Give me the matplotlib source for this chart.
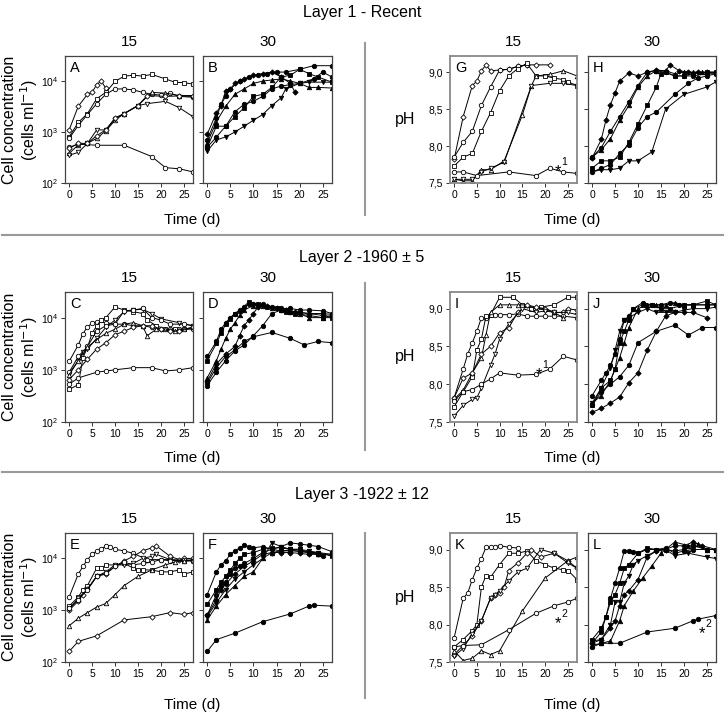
import matplotlib.pyplot as plt
from matplotlib.ticker import NullLocator

plt.rcParams.update({
    'font.family':['Liberation Sans','DejaVu Sans'],
    'font.size':8,
    'axes.linewidth':0.9,
    'xtick.major.size':3,'ytick.major.size':3,
    'xtick.major.width':0.7,'ytick.major.width':0.7,
    'xtick.labelsize':7.5,'ytick.labelsize':7.5,
})

# ---- cell concentration, 15 C (open symbols) ----
A_T=[[0,2,4,5,6,7,8],[0,2,4,6,8,10,12,14,16,18,21,23,25,27],[0,2,4,6,8,10,12,14,16,18,20,22,24,27],
     [0,2,4,6,8,10,12,15,18,21,24,27],[0,2,4,6,8,10,12,15,17,21,24,27],[0,2,6,12,18,21,24,27],
     [0,2,4,6,8,10,12,15,17,21,24,27]]
A_Y=[[1100,3200,5500,6000,8500,10000,7200],[800,1550,2300,4500,6000,9800,12500,13000,12500,13500,11000,9500,9300,8700],
     [750,1350,2200,3600,5500,7000,7000,6700,6000,5500,5300,5800,5000,4800],
     [380,560,600,750,1050,1700,2300,3300,6000,5800,5200,5200],[350,400,600,1100,1100,1800,2300,3300,3600,4000,3000,2000],
     [500,580,550,550,330,200,190,165],[480,600,600,850,1100,1900,2300,3300,5200,5000,5100,5000]]
A_MK=['D','s','o','^','v','o','D']

B_T=[[0,2,3,4,5,6,7,8,10,12,14,16,18,19],[0,2,3,4,5,7,9,11,13,15,17,20,23,27],[0,2,4,6,8,10,12,14,16,18,20,22,24,27],
     [0,2,4,6,8,10,12,14,16,18,20,22,24,27],[0,2,4,6,8,10,12,14,16,18,20,23,25,27],[0,2,4,6,8,10,12,14,16,17,20,22,25,27]]
B_Y=[[900,2400,3300,6500,7000,9000,10000,11000,13000,14000,15000,12000,9000,6000],
     [700,1900,3500,5000,7000,10000,12000,13000,14000,15000,15000,17000,20000,20000],
     [600,1600,3200,5500,7000,9000,10000,10500,11000,10000,9000,7500,7500,7300],
     [500,1300,1300,2000,3000,5000,5500,7500,12000,13000,17000,14000,12000,9500],
     [500,800,1300,2500,3500,4000,5000,7000,8000,8500,9000,11000,15000,12000],
     [420,700,800,1000,1300,1700,2200,3300,4700,7000,9000,9500,9500,9500]]
B_MK=['D','o','^','s','o','v']

C_T=[[0,2,3,4,5,6,8,10,12,14,16,18,20,22,24,27],[0,2,3,4,5,6,7,8,10,12,14,16,17,19,21,23,25,27],
     [0,2,3,4,6,8,10,12,14,16,18,20,24,27],[0,2,4,6,8,10,12,14,16,18,20,22,25,27],
     [0,2,4,6,8,10,12,14,16,17,19,21,23,25,27],[0,2,4,6,8,10,12,14,16,18,20,22,24,27],[0,2,6,8,10,14,18,21,24,27]]
C_Y=[[1450,3000,4900,6700,7800,8400,8000,7500,7500,7000,7000,6500,6000,6000,6000,6000],
     [420,520,1700,2700,5000,7000,9000,10000,16000,14000,13000,12000,9000,7000,6000,6000,6000,6500],
     [850,1500,2200,2500,4000,6500,9000,13000,14000,14500,12000,9500,8000,7000],
     [900,1800,2800,5500,7000,7500,13500,14000,15000,10000,9000,7500,7500,7000],
     [800,1500,2700,3800,5000,6000,7500,8000,7000,4500,6000,6000,5500,6000,6500],
     [650,1000,1600,2500,3300,4700,5500,6500,7000,7000,6000,5500,5500,6500],
     [530,700,900,950,1000,1100,1100,950,1000,1100]]
C_MK=['o','s','v','o','^','D','o']

D_T=[[0,2,3,4,5,6,7,8,9,10,12,14,16,18,20,22,25,27],[0,2,3,4,5,6,7,9,11,13,15,17,19,22,25,27],
     [0,2,3,4,5,6,7,8,10,12,14,16,18,20,22,25,27],[0,2,4,6,7,8,9,10,11,13,15,17,19,22,25,27],
     [0,2,4,6,8,10,12,14,16,18,20,22,25,27],[0,2,4,6,8,10,14,18,21,24,27]]
D_Y=[[1800,3500,6000,8000,10000,12000,14000,16000,18000,18000,18000,16000,15000,15000,14000,14000,13500,12000],
     [1500,3200,5000,7500,9500,12000,13500,20000,18000,16000,15000,13000,12000,11000,10000,10000],
     [700,1500,2500,4000,6000,8000,11000,14000,17000,17000,15000,14000,13000,12000,10000,10000,11000],
     [600,1300,2000,2800,4500,7000,9000,12000,16000,17000,15000,14000,13000,12000,11000,10500],
     [500,900,1500,2300,3000,4500,7000,12000,14000,13000,12500,12000,12000,11500],
     [550,1100,1800,2400,3500,4300,5200,4000,3000,3500,3300]]
D_MK=['o','s','^','D','o','o']

E_T=[[0,2,3,4,5,6,7,8,9,10,12,14,17,20,22,25,27],[0,2,3,4,6,7,8,10,12,14,15,16,18,20,22,24,25,27],
     [0,2,3,4,6,8,10,12,14,16,18,19,22,24,25,27],[0,2,4,6,8,10,12,14,16,18,19,22,25,27],
     [0,2,4,6,8,10,12,14,16,18,20,22,25,27],[0,2,4,6,8,10,12,15,18,21,23,25,27],[0,2,6,12,18,22,25,27]]
E_Y=[[1800,5000,7000,9500,12000,14000,15000,17500,16500,15000,14000,12500,9500,9500,9500,9000,9000],
     [1200,1800,2500,3000,6500,6500,7500,7500,8000,6500,6000,6000,6000,5500,5500,6000,5000,5500],
     [1000,1500,2000,2600,4500,5000,7000,9000,11000,14000,16000,17500,11000,9500,10000,10000],
     [1050,1700,2500,4500,5500,7500,7500,8000,10000,11000,12000,9500,9000,9000],
     [1100,1600,2500,4500,5200,7000,8500,7500,8000,8500,9500,9000,9500,9000],
     [500,700,900,1150,1350,2000,3000,4500,6000,7500,8500,9000,9500],
     [160,250,320,650,750,900,830,900]]
E_MK=['o','s','D','v','o','^','D']

F_T=[[0,2,3,4,5,6,7,8,9,10,12,14,16,18,20,22,24,27],[0,2,3,4,5,6,7,8,10,12,14,16,18,20,22,24,27],
     [0,2,3,4,5,6,7,8,10,12,14,16,18,20,22,24,25],[0,2,3,4,6,8,10,12,14,16,18,20,22,24],
     [0,2,4,6,8,10,12,14,16,18,20,22,24,27],[0,2,4,6,8,10,12,14,16,18,20,22,24,27],[0,2,6,12,18,22,23,27]]
F_Y=[[2000,5500,7500,9000,12000,14000,16000,18000,17000,16000,17000,15000,17000,20000,19000,18000,17000,13500],
     [1300,2500,3500,4500,6000,8000,10000,12000,13000,15000,16000,16000,15000,15000,13000,13000,11000],
     [800,2000,3000,3500,5000,6500,7000,8000,10000,13000,15000,14000,14500,13500,13000,12000,11000],
     [800,1600,2500,3200,5000,7000,9000,12000,13000,13000,13000,12500,12000,12000],
     [750,1400,2500,4000,5500,7500,10000,20000,17000,15000,15000,14000,13000,12000],
     [650,1200,2000,3000,4500,5500,10000,13000,14000,14000,14000,13000,12000,12000],
     [160,270,360,600,850,1200,1250,1200]]
F_MK=['o','s','o','D','v','^','o']

# ---- pH ----
G_T=[[0,2,4,5,6,7,8,10,12,14,16,18,21],[0,2,4,6,8,10,12,14,16],[0,2,4,6,8,10,12,14,16,18,20,22,24,25,27],
     [0,2,4,6,8,11,15,17,18,21,24,27],[0,2,4,6,8,11,17,21,24,27],[0,2,5,12,18,21,24,27]]
G_Y=[[7.82,8.4,8.82,8.88,9.02,9.1,9.02,9.03,9.04,9.08,9.1,9.1,9.1],[7.85,8.05,8.2,8.55,8.8,9.03,9.04,9.08,9.1],
     [7.73,7.85,7.9,8.2,8.45,8.75,8.95,9.05,9.12,8.95,8.95,8.92,8.9,8.87,8.82],
     [7.55,7.53,7.53,7.68,7.68,7.8,8.42,8.82,8.95,8.97,9.02,8.95],[7.55,7.55,7.55,7.65,7.7,7.78,8.82,8.85,8.85,8.82],
     [7.65,7.65,7.6,7.65,7.6,7.7,7.65,7.63]]
G_MK=['D','o','s','^','v','o']

H_T=[[0,2,3,4,5,6,8,10,12,14,16,17,19,21,23,25,27],[0,2,4,6,8,10,12,14,16,18,20,22,25,27],
     [0,2,4,6,8,10,12,14,16,18,20,22,24,27],[0,2,4,6,8,10,12,14,15,16,18,20,22,25,27],
     [0,2,4,6,8,10,12,14,18,21,23,25,27],[0,2,4,6,8,10,13,16,20,25,27]]
H_Y=[[7.84,8.09,8.35,8.56,8.72,8.88,8.99,8.95,9.0,9.03,9.02,9.1,9.02,9.0,9.0,9.0,9.0],
     [7.85,7.98,8.2,8.4,8.6,8.82,9.0,9.02,9.0,8.95,8.95,8.95,8.98,8.98],
     [7.85,7.95,8.1,8.35,8.55,8.8,8.95,9.02,9.02,8.98,9.0,9.0,9.0,9.0],
     [7.7,7.8,7.8,7.85,8.05,8.3,8.55,8.8,8.98,9.0,8.95,8.95,8.98,9.0,9.0],
     [7.65,7.7,7.75,7.9,8.02,8.25,8.4,8.46,8.7,8.85,8.92,8.95,8.98],
     [7.65,7.68,7.68,7.7,7.8,7.8,7.92,8.5,8.7,8.8,8.87]]
H_MK=['D','o','^','s','o','v']

I_T=[[0,2,3,4,5,6,7,8,9,10,12,14,16,18,20,22,24,27],[0,2,4,5,6,7,8,10,13,15,17,19,22,25,27],
     [0,2,4,6,7,8,10,12,14,16,18,20,22,24],[0,2,4,6,8,10,12,14,16,18,20,22,24,25,27],
     [0,2,4,5,6,8,9,10,12,15,18,20,22,25,27],[0,2,4,6,8,10,14,18,21,24,27]]
I_Y=[[7.82,8.2,8.4,8.55,8.7,8.88,8.88,8.92,8.92,8.92,8.92,8.93,8.9,8.9,8.9,8.9,8.9,8.88],
     [7.7,7.9,8.1,8.45,8.6,8.9,8.92,9.15,9.15,9.05,9.0,9.02,9.05,9.15,9.15],
     [7.8,7.92,8.15,8.35,8.65,8.95,9.05,9.05,9.05,9.05,9.0,9.0,8.95,8.88],
     [7.82,8.08,8.15,8.4,8.5,8.68,8.75,8.95,9.05,9.02,9.0,8.95,8.95,9.0,8.98],
     [7.58,7.72,7.8,7.82,7.95,8.25,8.4,8.6,8.8,9.0,8.95,8.97,8.95,8.95,8.92],
     [7.78,7.9,7.93,8.0,8.07,8.15,8.12,8.13,8.2,8.37,8.32]]
I_MK=['o','s','^','D','v','o']

J_T=[[0,2,3,4,5,6,7,8,9,11,13,15,17,19,22,25,27],[0,2,4,5,6,7,8,9,11,13,15,17,20,22,25,27],
     [0,2,4,5,6,7,8,10,12,14,16,18,20,22,25,27],[0,2,4,5,6,7,8,10,12,14,16,18,20,22,25,27],
     [0,2,4,6,8,10,14,18,21,24,27],[0,2,4,6,8,10,12,14,16,18,20,22,25]]
J_Y=[[7.85,8.05,8.15,8.25,8.4,8.6,8.85,8.9,9.0,9.08,9.05,9.05,9.08,9.05,9.05,9.05,9.05],
     [7.72,7.95,8.05,8.2,8.55,8.7,8.85,9.0,9.05,9.05,9.0,9.0,9.05,9.05,9.1,9.05],
     [7.75,7.85,8.05,8.2,8.35,8.55,8.75,9.0,9.05,9.05,9.05,9.08,9.05,9.05,9.05,9.05],
     [7.75,7.95,8.22,8.45,8.7,8.85,8.88,8.95,9.0,8.95,8.95,8.95,8.98,9.0,9.0,9.02],
     [7.72,7.9,8.0,8.1,8.25,8.55,8.7,8.78,8.65,8.75,8.75],
     [7.63,7.68,7.75,7.83,8.02,8.15,8.45,8.7,8.9,8.95,8.95,8.95,8.88]]
J_MK=['o','s','^','v','o','D']

K_T=[[0,2,3,4,5,6,7,8,9,10,12,14],[0,2,4,5,6,7,8,10,12,14,16,18,20,22,24,25,27],
     [0,2,4,6,8,9,10,11,12,14,16,17,19,22,25,27],[0,2,4,6,8,9,10,12,14,16,19,22,25,27],
     [0,2,4,6,8,10,15,20,25,27],[0,2,6,12,18,22,25,27]]
K_Y=[[7.82,8.35,8.42,8.6,8.75,8.88,9.03,9.03,9.04,9.05,9.03,9.02],
     [7.7,7.8,7.92,8.0,8.5,8.65,8.63,8.8,8.95,8.95,8.98,8.85,8.8,8.75,8.73,8.72,8.6],
     [7.6,7.72,7.85,8.05,8.35,8.4,8.42,8.5,8.72,8.82,8.95,9.0,8.9,8.95,8.85,8.75],
     [7.58,7.68,7.88,8.05,8.35,8.4,8.45,8.58,8.7,8.75,9.0,8.95,8.82,8.75],
     [7.65,7.52,7.55,7.65,7.6,7.65,8.18,8.62,8.85,8.9],[7.7,7.72,7.73,7.93,8.15,8.25,8.3,8.35]]
K_MK=['o','s','D','v','^','o']

L_T=[[0,2,3,4,5,6,7,8,9,10,12,14,16,18,20,22,25,27],[0,2,3,4,5,6,7,8,10,12,14,16,18,20,22,25,27],
     [0,2,4,5,6,7,8,9,10,12,14,16,18,21,25,27],[0,2,4,5,6,7,8,10,12,14,16,18,20,22,24,27],
     [0,2,4,6,7,9,11,13,15,18,21,23,25,27],[0,2,6,12,18,22,23,27]]
L_Y=[[7.75,7.9,8.1,8.35,8.55,8.75,8.98,8.98,8.97,8.95,9.0,9.0,9.02,8.95,8.98,9.0,9.0,9.0],
     [7.8,7.95,8.1,8.3,8.4,8.55,8.75,8.8,8.95,9.02,9.0,9.0,8.98,9.0,9.05,9.0,9.0],
     [7.78,7.8,8.0,8.3,8.3,8.55,8.65,8.8,8.85,8.92,8.98,9.0,8.92,8.95,8.9,8.88],
     [7.75,7.8,7.95,8.05,8.25,8.4,8.45,8.6,8.9,8.98,9.0,9.05,9.05,9.1,9.05,9.0],
     [7.72,7.75,7.78,8.05,8.25,8.45,8.62,8.78,8.95,9.1,9.05,9.08,9.0,9.0],[7.7,7.75,7.75,7.9,7.95,8.05,8.07,8.12]]
L_MK=['o','s','v','D','^','o']

LAYERS=['Layer 1 - Recent','Layer 2 -1960 \u00b1 5','Layer 3 -1922 \u00b1 12']
TEMPS=['15','30']
NOTES={'G':('1',22.8,7.72),'I':('1',18.6,8.2),'K':('2',22.8,8.08),'L':('2',23.9,7.95)}

W,H=725,717
ROWS=[(56,183),(292,422),(533,662)]
COLS=[(65,193),(203,332),(450,577),(588,716)]
fig=plt.figure(figsize=(W/100,H/100),dpi=100)

def box(c,r):
    (l,rt),(t,b)=COLS[c],ROWS[r]
    return [l/W,1-b/H,(rt-l)/W,(b-t)/H]

panels=[[('A',A_T,A_Y,A_MK),('B',B_T,B_Y,B_MK),('G',G_T,G_Y,G_MK),('H',H_T,H_Y,H_MK)],
        [('C',C_T,C_Y,C_MK),('D',D_T,D_Y,D_MK),('I',I_T,I_Y,I_MK),('J',J_T,J_Y,J_MK)],
        [('E',E_T,E_Y,E_MK),('F',F_T,F_Y,F_MK),('K',K_T,K_Y,K_MK),('L',L_T,L_Y,L_MK)]]

for r in range(3):
    for c in range(4):
        lab,T,Y,MK=panels[r][c]
        ax=fig.add_axes(box(c,r))
        filled=c in (1,3)
        for t,y,m in zip(T,Y,MK):
            ax.plot(t,y,color='k',lw=0.7,marker=m,ms=3.2 if m!='D' else 2.7,mew=0.6,mec='k',mfc='k' if filled else 'white')
        ax.set_xlim(-0.9,27)
        ax.set_xticks([0,5,10,15,20,25])
        if c<2:
            ax.set_yscale('log'); ax.set_ylim(100,31000); ax.set_yticks([100,1000,10000])
        else:
            ax.set_ylim(7.5,9.22); ax.set_yticks([7.5,8.0,8.5,9.0]); ax.set_yticklabels(['7,5','8,0','8,5','9,0'])
        ax.yaxis.set_minor_locator(NullLocator())
        if c in (1,3): ax.tick_params(axis='y',labelleft=False)
        ax.tick_params(axis='both',pad=2,colors='#333333',labelcolor='black')
        for s in ax.spines.values(): s.set_color('#444444' if c!=2 else '#888888'); s.set_linewidth(0.9 if c!=2 else 1.3)
        ax.text(0.04,0.96,lab,transform=ax.transAxes,ha='left',va='top',fontsize=10.5)
        if lab in NOTES:
            n,x,y=NOTES[lab]
            ax.text(x,y-0.13,'*',fontsize=12,ha='center',va='baseline')
            ax.text(x+0.8,y-0.01,n,fontsize=7.5,ha='left',va='bottom')
        l,rt=COLS[c]
        fig.text((l+rt)/2/W,1-(ROWS[r][0]-14)/H,TEMPS[c%2],ha='center',va='center',fontsize=11)

# labels, titles and separators
ylab_y=[120,357,597]
time_off=[37,36,43]
for r in range(3):
    t,b=ROWS[r]
    fig.text(21/W,1-ylab_y[r]/H,'Cell concentration\n(cells ml$^{-1}$)',rotation=90,ha='center',va='center',fontsize=11.5,linespacing=1.05)
    fig.text(405/W,1-(t+b)/2/H,'pH',ha='center',va='center',fontsize=11.5)
    fig.text(192/W,1-(b+time_off[r])/H,'Time (d)',ha='center',va='center',fontsize=11)
    fig.text(572/W,1-(b+time_off[r])/H,'Time (d)',ha='center',va='center',fontsize=11)
TITLE_Y=[12,258,495]
for r,ttl in enumerate(LAYERS):
    fig.text(362/W,1-TITLE_Y[r]/H,ttl,ha='center',va='center',fontsize=11.5)
for y in (235,472):
    fig.add_artist(plt.Line2D([2/W,723/W],[1-y/H,1-y/H],color='#999999',lw=1.5))
for y0,y1 in ((43,215),(283,450),(533,698)):
    fig.add_artist(plt.Line2D([365/W,365/W],[1-y0/H,1-y1/H],color='#999999',lw=1.5))

fig.savefig('out.png',dpi=100)
